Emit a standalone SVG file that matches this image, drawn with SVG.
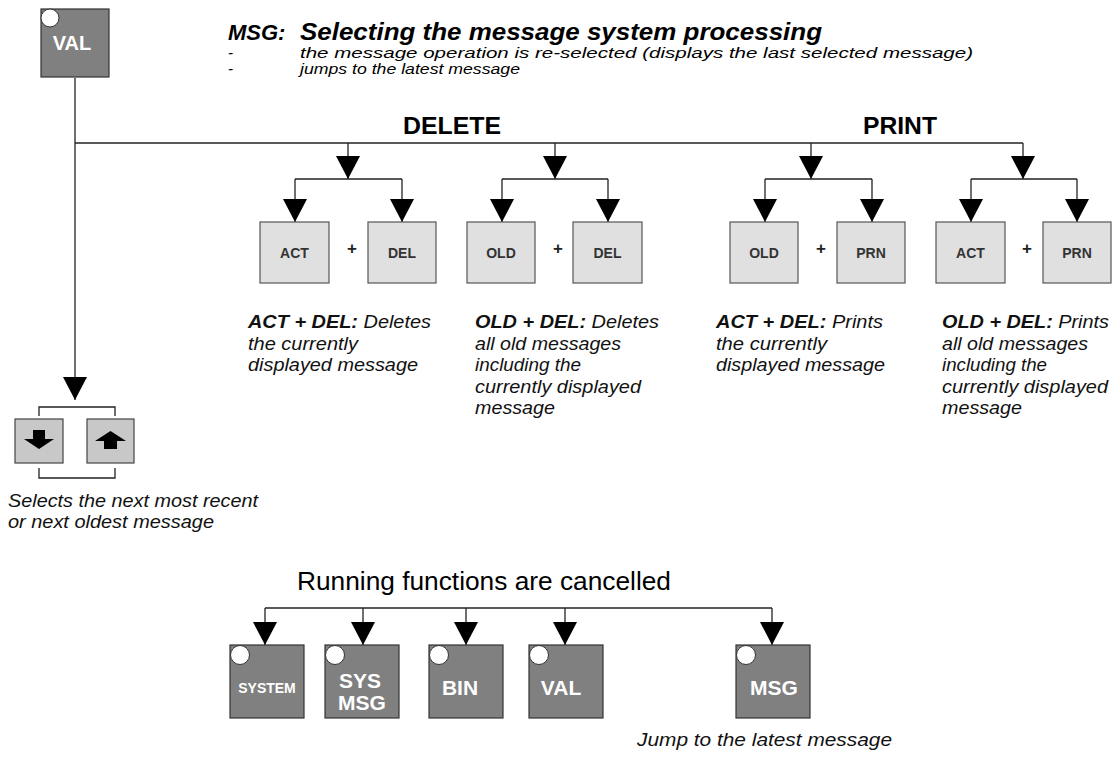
<svg xmlns="http://www.w3.org/2000/svg" width="1113" height="757" viewBox="0 0 1113 757">
<style>
.t{font-family:"Liberation Sans",Arial,sans-serif;fill:#000}
.ti{font-style:italic}
.tb{font-weight:bold}
.key{fill:#e0e0e0;stroke:#555;stroke-width:1.2}
.btn{fill:#c8c8c8;stroke:#444;stroke-width:1.2}
.dk{fill:#808080;stroke:#333;stroke-width:1.2}
.led{fill:#fff;stroke:#333;stroke-width:1}
.kl{font-family:"Liberation Sans",Arial,sans-serif;font-weight:bold;font-size:14px;fill:#333;text-anchor:middle}
.dl{font-family:"Liberation Sans",Arial,sans-serif;font-weight:bold;fill:#fff;text-anchor:middle}
.plus{font-family:"Liberation Sans",Arial,sans-serif;font-weight:bold;font-size:17px;fill:#222;text-anchor:middle}
.ln{fill:none;stroke:#222;stroke-width:1.3}
.ar{fill:none;stroke:#222;stroke-width:1.3;marker-end:url(#ah)}
.d{font-family:"Liberation Sans",Arial,sans-serif;font-style:italic;font-size:18px;fill:#111}
</style>
<defs>
<marker id="ah" markerUnits="userSpaceOnUse" markerWidth="24" markerHeight="24" refX="23" refY="12" orient="auto">
<path d="M0,0 L23,12 L0,24 z" fill="#000"/>
</marker>
</defs>

<g id="title">
<text class="t ti tb" x="228" y="40" font-size="22">MSG:</text>
<text class="t ti tb" x="300" y="40" font-size="23" textLength="522" lengthAdjust="spacingAndGlyphs">Selecting the message system processing</text>
<text class="t ti" x="228" y="58" font-size="15">-</text>
<text class="t ti" x="228" y="74" font-size="15">-</text>
<text class="t ti" x="300" y="58" font-size="15" textLength="673" lengthAdjust="spacingAndGlyphs">the message operation is re-selected (displays the last selected message)</text>
<text class="t ti" x="300" y="74" font-size="15" textLength="220" lengthAdjust="spacingAndGlyphs">jumps to the latest message</text>
</g>

<g id="label-delete"><text class="t tb" x="452" y="134" font-size="23" text-anchor="middle" textLength="98" lengthAdjust="spacingAndGlyphs">DELETE</text></g>
<g id="label-print"><text class="t tb" x="900" y="134" font-size="23" text-anchor="middle" textLength="74" lengthAdjust="spacingAndGlyphs">PRINT</text></g>

<g id="connectors">
<path class="ar" d="M75,78 V400"/>
<path class="ln" d="M75,143 H1023"/>
<path class="ar" d="M348,143 V179"/>
<path class="ar" d="M555,143 V179"/>
<path class="ar" d="M811,143 V179"/>
<path class="ar" d="M1023,143 V179"/>
<path class="ln" d="M295,179 H402"/>
<path class="ln" d="M502,179 H608"/>
<path class="ln" d="M765,179 H872"/>
<path class="ln" d="M971,179 H1077"/>
<path class="ar" d="M295,179 V222"/>
<path class="ar" d="M402,179 V222"/>
<path class="ar" d="M502,179 V222"/>
<path class="ar" d="M608,179 V222"/>
<path class="ar" d="M765,179 V222"/>
<path class="ar" d="M872,179 V222"/>
<path class="ar" d="M971,179 V222"/>
<path class="ar" d="M1077,179 V222"/>
<path class="ln" d="M39,416 V407 H115 V416"/>
<path class="ln" d="M39,468 V478 H115 V468"/>
<path class="ln" d="M265,608 H772"/>
<path class="ar" d="M265,608 V645"/>
<path class="ar" d="M363,608 V645"/>
<path class="ar" d="M466,608 V645"/>
<path class="ar" d="M565,608 V645"/>
<path class="ar" d="M772,608 V645"/>
</g>

<g id="val-top">
<rect class="dk" x="41" y="9" width="68" height="68"/>
<circle class="led" cx="50" cy="18" r="9"/>
<text class="dl" x="72" y="50" font-size="20">VAL</text>
</g>

<g id="del-act"><rect class="key" x="260" y="222" width="69" height="61"/><text class="kl" x="294.5" y="258">ACT</text></g>
<g id="del-plus1"><text class="plus" x="352" y="254">+</text></g>
<g id="del-del1"><rect class="key" x="368" y="222" width="68" height="61"/><text class="kl" x="402" y="258">DEL</text></g>
<g id="del-old"><rect class="key" x="467" y="222" width="68" height="61"/><text class="kl" x="501" y="258">OLD</text></g>
<g id="del-plus2"><text class="plus" x="558" y="254">+</text></g>
<g id="del-del2"><rect class="key" x="573" y="222" width="69" height="61"/><text class="kl" x="607.5" y="258">DEL</text></g>

<g id="prn-old"><rect class="key" x="730" y="222" width="68" height="61"/><text class="kl" x="764" y="258">OLD</text></g>
<g id="prn-plus1"><text class="plus" x="821" y="254">+</text></g>
<g id="prn-prn1"><rect class="key" x="837" y="222" width="68" height="61"/><text class="kl" x="871" y="258">PRN</text></g>
<g id="prn-act"><rect class="key" x="936" y="222" width="69" height="61"/><text class="kl" x="970.5" y="258">ACT</text></g>
<g id="prn-plus2"><text class="plus" x="1027" y="254">+</text></g>
<g id="prn-prn2"><rect class="key" x="1043" y="222" width="68" height="61"/><text class="kl" x="1077" y="258">PRN</text></g>

<g id="desc1">
<text class="d" x="248" y="328" textLength="183" lengthAdjust="spacingAndGlyphs"><tspan font-weight="bold">ACT + DEL:</tspan> Deletes</text>
<text class="d" x="248" y="349.5" textLength="110" lengthAdjust="spacingAndGlyphs">the currently</text>
<text class="d" x="248" y="371" textLength="170" lengthAdjust="spacingAndGlyphs">displayed message</text>
</g>
<g id="desc2">
<text class="d" x="475" y="328" textLength="184" lengthAdjust="spacingAndGlyphs"><tspan font-weight="bold">OLD + DEL:</tspan> Deletes</text>
<text class="d" x="475" y="349.5" textLength="146" lengthAdjust="spacingAndGlyphs">all old messages</text>
<text class="d" x="475" y="371" textLength="106" lengthAdjust="spacingAndGlyphs">including the</text>
<text class="d" x="475" y="392.5" textLength="166" lengthAdjust="spacingAndGlyphs">currently displayed</text>
<text class="d" x="475" y="414" textLength="80" lengthAdjust="spacingAndGlyphs">message</text>
</g>
<g id="desc3">
<text class="d" x="716" y="328" textLength="167" lengthAdjust="spacingAndGlyphs"><tspan font-weight="bold">ACT + DEL:</tspan> Prints</text>
<text class="d" x="716" y="349.5" textLength="111" lengthAdjust="spacingAndGlyphs">the currently</text>
<text class="d" x="716" y="371" textLength="169" lengthAdjust="spacingAndGlyphs">displayed message</text>
</g>
<g id="desc4">
<text class="d" x="942" y="328" textLength="167" lengthAdjust="spacingAndGlyphs"><tspan font-weight="bold">OLD + DEL:</tspan> Prints</text>
<text class="d" x="942" y="349.5" textLength="146" lengthAdjust="spacingAndGlyphs">all old messages</text>
<text class="d" x="942" y="371" textLength="105" lengthAdjust="spacingAndGlyphs">including the</text>
<text class="d" x="942" y="392.5" textLength="166" lengthAdjust="spacingAndGlyphs">currently displayed</text>
<text class="d" x="942" y="414" textLength="80" lengthAdjust="spacingAndGlyphs">message</text>
</g>

<g id="btn-down">
<rect class="btn" x="15" y="419" width="48" height="44"/>
<path d="M33,430 H45 V439 H54 L39,449 L24,439 H33 z" fill="#000"/>
</g>
<g id="btn-up">
<rect class="btn" x="87" y="419" width="47" height="44"/>
<path d="M110.5,431 L126,441 H117 V449 H104 V441 H95 z" fill="#000"/>
</g>
<g id="caption-select">
<text class="d" x="8" y="507" textLength="250" lengthAdjust="spacingAndGlyphs">Selects the next most recent</text>
<text class="d" x="8" y="528" textLength="206" lengthAdjust="spacingAndGlyphs">or next oldest message</text>
</g>

<g id="label-running"><text class="t" x="297" y="590" font-size="25" textLength="374" lengthAdjust="spacingAndGlyphs">Running functions are cancelled</text></g>
<g id="system"><rect class="dk" x="230" y="645" width="74" height="73"/><circle class="led" cx="240" cy="655" r="9.5"/><text class="dl" x="267" y="693" font-size="14">SYSTEM</text></g>
<g id="sysmsg"><rect class="dk" x="325" y="645" width="74" height="73"/><circle class="led" cx="335" cy="655" r="9.5"/><text class="dl" x="360" y="688" font-size="21">SYS</text><text class="dl" x="362" y="710" font-size="21">MSG</text></g>
<g id="bin"><rect class="dk" x="429" y="645" width="74" height="73"/><circle class="led" cx="439" cy="655" r="9.5"/><text class="dl" x="460" y="695" font-size="21">BIN</text></g>
<g id="val-bottom"><rect class="dk" x="529" y="645" width="74" height="73"/><circle class="led" cx="539" cy="655" r="9.5"/><text class="dl" x="561" y="695" font-size="21">VAL</text></g>
<g id="msg"><rect class="dk" x="736" y="645" width="74" height="73"/><circle class="led" cx="746" cy="655" r="9.5"/><text class="dl" x="774" y="695" font-size="21">MSG</text></g>
<g id="caption-jump"><text class="d" x="637" y="746" textLength="255" lengthAdjust="spacingAndGlyphs">Jump to the latest message</text></g>
</svg>
